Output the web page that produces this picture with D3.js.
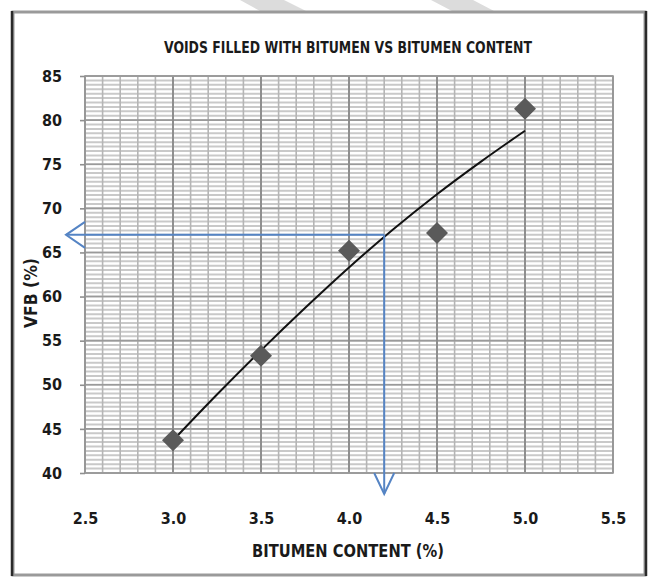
<!DOCTYPE html>
<html>
<head>
<meta charset="utf-8">
<script src="https://cdn.jsdelivr.net/npm/d3@7"></script>
<style>
  html, body { margin: 0; padding: 0; background: #fff; }
  svg { display: block; }
  .lbl { font-family: "Liberation Sans Narrow", "DejaVu Sans Condensed", sans-serif; font-weight: bold; fill: #1a1a1a; }
</style>
</head>
<body>
<svg id="chart" width="653" height="578"></svg>
<script>
// ---------- data ----------
const titleText = "VOIDS FILLED WITH BITUMEN VS BITUMEN CONTENT";
const xTitle = "BITUMEN CONTENT (%)";
const yTitle = "VFB (%)";
const xDomain = [2.5, 5.5];
const yDomain = [40, 85];
const xTicks = [2.5, 3.0, 3.5, 4.0, 4.5, 5.0, 5.5];
const yTicks = [40, 45, 50, 55, 60, 65, 70, 75, 80, 85];
const bitumen = [3.0, 3.5, 4.0, 4.5, 5.0];
const vfb = [43.7, 53.3, 65.2, 67.2, 81.3];
// trendline
const trendX = [3.0, 3.25, 3.5, 3.75, 4.0, 4.25, 4.5, 4.75, 5.0];
const trendY = [43.7, 48.9, 53.9, 58.7, 63.3, 67.6, 71.6, 75.3, 78.8];
// design point
const designX = 4.2;
const designY = 67;

// ---------- drawing ----------
const svg = d3.select("#chart");
const W = 653, H = 578;
const plot = { left: 85, right: 613, top: 76, bottom: 473 };
const x = d3.scaleLinear().domain(xDomain).range([plot.left, plot.right]);
const y = d3.scaleLinear().domain(yDomain).range([plot.bottom, plot.top]);

svg.append("rect").attr("width", W).attr("height", H).attr("fill", "#fff");

// faint watermark bands at the top
const bands = [[[240,0],[284,0],[306,11],[260,11]], [[431,0],[473,0],[494,11],[452,11]]];
svg.selectAll("path.band").data(bands).join("path")
  .attr("class", "band")
  .attr("d", d => "M" + d.join("L") + "Z")
  .attr("fill", "#dcdcdc");

// outer frame
svg.append("rect").attr("x", 13).attr("y", 12).attr("width", 632).attr("height", 563)
  .attr("fill", "none").attr("stroke", "#9a9a9a").attr("stroke-width", 3);
svg.append("line").attr("x1", 12).attr("x2", 12).attr("y1", 11).attr("y2", 576)
  .attr("stroke", "#2a2a2a").attr("stroke-width", 2.5);
svg.append("line").attr("x1", 646).attr("x2", 646).attr("y1", 11).attr("y2", 576)
  .attr("stroke", "#2a2a2a").attr("stroke-width", 2.5);

// grid
const g = svg.append("g");
const hMinor = d3.range(yDomain[0] * 2, yDomain[1] * 2 + 1).map(v => v / 2);
const vMinor = d3.range(Math.round(xDomain[0] * 10), Math.round(xDomain[1] * 10) + 1).map(v => v / 10);

g.selectAll("line.hmin").data(hMinor).join("line")
  .attr("x1", plot.left).attr("x2", plot.right)
  .attr("y1", d => y(d)).attr("y2", d => y(d))
  .attr("stroke", "#c9c9c9").attr("stroke-width", 2);
g.selectAll("line.vmin").data(vMinor).join("line")
  .attr("y1", plot.top).attr("y2", plot.bottom)
  .attr("x1", d => x(d)).attr("x2", d => x(d))
  .attr("stroke", "#b5b5b5").attr("stroke-width", 1.6);
g.selectAll("line.hmaj").data(yTicks).join("line")
  .attr("x1", plot.left).attr("x2", plot.right)
  .attr("y1", d => y(d)).attr("y2", d => y(d))
  .attr("stroke", "#9a9a9a").attr("stroke-width", 1.6);
g.selectAll("line.vmaj").data(xTicks).join("line")
  .attr("y1", plot.top).attr("y2", plot.bottom)
  .attr("x1", d => x(d)).attr("x2", d => x(d))
  .attr("stroke", "#8a8a8a").attr("stroke-width", 1.8);
g.append("rect").attr("x", plot.left).attr("y", plot.top)
  .attr("width", plot.right - plot.left).attr("height", plot.bottom - plot.top)
  .attr("fill", "none").attr("stroke", "#9a9a9a").attr("stroke-width", 1.6);

// axes
const yAxis = svg.append("g").attr("transform", `translate(${plot.left},0)`)
  .call(d3.axisLeft(y).tickValues(yTicks).tickSize(5).tickPadding(18).tickFormat(d3.format("d")));
yAxis.select(".domain").remove();
yAxis.selectAll(".tick line").attr("stroke", "#8f8f8f").attr("stroke-width", 1.6);
yAxis.selectAll(".tick text").attr("class", "lbl").attr("font-size", 16).attr("fill", "#1a1a1a");

const xAxis = svg.append("g").attr("transform", `translate(0,${plot.bottom})`)
  .call(d3.axisBottom(x).tickValues(xTicks).tickSize(0).tickPadding(40).tickFormat(d3.format(".1f")));
xAxis.select(".domain").remove();
xAxis.selectAll(".tick text").attr("class", "lbl").attr("font-size", 16).attr("fill", "#1a1a1a");

// titles
svg.append("text").attr("class", "lbl").attr("x", 348).attr("y", 53)
  .attr("text-anchor", "middle").attr("font-size", 16)
  .attr("textLength", 368).attr("lengthAdjust", "spacingAndGlyphs").text(titleText);
svg.append("text").attr("class", "lbl").attr("x", 348).attr("y", 557)
  .attr("text-anchor", "middle").attr("font-size", 17)
  .attr("textLength", 192).attr("lengthAdjust", "spacingAndGlyphs").text(xTitle);
svg.append("text").attr("class", "lbl")
  .attr("transform", "translate(37,293) rotate(-90)")
  .attr("text-anchor", "middle").attr("font-size", 17)
  .attr("textLength", 70).attr("lengthAdjust", "spacingAndGlyphs").text(yTitle);

// trend line
const trend = trendX.map((v, i) => [v, trendY[i]]);
svg.append("path").datum(trend)
  .attr("d", d3.line().x(d => x(d[0])).y(d => y(d[1])).curve(d3.curveMonotoneX))
  .attr("fill", "none").attr("stroke", "#111").attr("stroke-width", 2);

// markers
const pts = bitumen.map((v, i) => [v, vfb[i]]);
svg.selectAll("path.pt").data(pts).join("path")
  .attr("class", "pt")
  .attr("transform", d => `translate(${x(d[0])},${y(d[1])})`)
  .attr("d", "M0,-11L11,0L0,11L-11,0Z")
  .attr("fill", "#5a5a5a");

// blue reading arrows
const px = x(designX), py = y(designY);
const blue = "#5584c4";
const hTip = plot.left - 19, vTip = plot.bottom + 21;
svg.append("line").attr("x1", px).attr("y1", py).attr("x2", hTip).attr("y2", py)
  .attr("stroke", blue).attr("stroke-width", 2);
svg.append("path").attr("d", `M${hTip + 19},${py - 13}L${hTip},${py}L${hTip + 19},${py + 13}`)
  .attr("fill", "none").attr("stroke", blue).attr("stroke-width", 2);
svg.append("line").attr("x1", px).attr("y1", py).attr("x2", px).attr("y2", vTip)
  .attr("stroke", blue).attr("stroke-width", 2);
svg.append("path").attr("d", `M${px - 10},${vTip - 21}L${px},${vTip}L${px + 10},${vTip - 21}`)
  .attr("fill", "none").attr("stroke", blue).attr("stroke-width", 2);
</script>
</body>
</html>
